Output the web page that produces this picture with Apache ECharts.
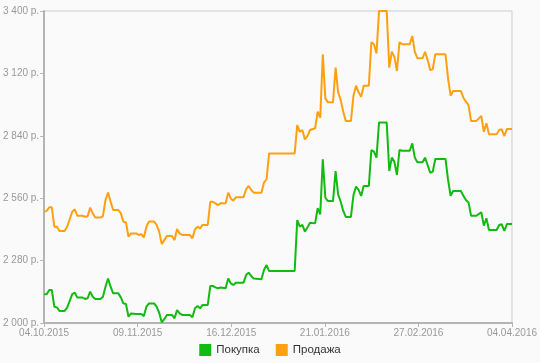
<!DOCTYPE html>
<html>
<head>
<meta charset="utf-8">
<script src="https://cdn.jsdelivr.net/npm/echarts@6/dist/echarts.min.js"></script>
<style>
html,body{margin:0;padding:0;background:#fafafa;}
#c{width:540px;height:363px;}
</style>
</head>
<body>
<div id="c"></div>
<script>
// Data: days since 04.10.2015, with buy / sell rates (руб.)
const startDate = '2015-10-04';
const dayOffsets = [
  0,1,2,3,4,5,6,8,9,11,
  12,13,15,16,17,18,19,20,22,23,
  24,25,26,27,29,30,31,32,33,34,
  36,37,38,39,40,41,43,44,45,46,
  47,48,50,51,52,53,54,57,58,59,
  60,61,62,64,65,66,67,68,69,71,
  72,73,74,75,78,79,80,81,82,85,
  86,87,88,98,99,100,101,102,103,104,
  106,107,108,109,110,111,113,114,115,116,
  117,118,120,121,122,123,124,125,127,128,
  129,130,131,134,135,136,137,138,139,140,
  143,144,145,146,148,149,150,151,152,153,
  157,158,159,160,163,164,165,166,167,169,
  171,172,173,174,177,178,179,180,181,183
];
const sellValues = [
  2499,2503,2519,2519,2432,2432,2413,2413,2432,2499,
  2510,2481,2481,2477,2479,2517,2492,2473,2473,2480,
  2552,2585,2544,2507,2507,2492,2455,2451,2387,2402,
  2402,2395,2399,2384,2432,2455,2455,2440,2410,2354,
  2372,2390,2390,2372,2422,2402,2395,2395,2380,2420,
  2432,2425,2440,2440,2544,2544,2537,2529,2537,2537,
  2585,2559,2549,2564,2564,2600,2615,2597,2585,2585,
  2630,2645,2761,2761,2888,2858,2866,2824,2839,2866,
  2874,2948,2921,3206,3008,2990,2990,3146,3035,3001,
  2948,2906,2906,3020,3065,3035,3015,3065,3065,3260,
  3251,3210,3400,3400,3146,3217,3195,3131,3260,3251,
  3251,3288,3217,3188,3188,3217,3180,3135,3138,3206,
  3206,3098,3020,3041,3041,3011,2993,2978,2906,2906,
  2929,2858,2896,2847,2847,2866,2869,2839,2870,2870
];
const buyValues = [
  2129,2129,2148,2148,2073,2070,2054,2054,2069,2130,
  2136,2114,2114,2108,2111,2141,2118,2108,2108,2118,
  2163,2200,2163,2133,2133,2115,2088,2085,2028,2043,
  2040,2040,2040,2031,2073,2088,2088,2073,2046,2003,
  2017,2036,2036,2021,2058,2043,2036,2036,2026,2066,
  2076,2066,2081,2081,2166,2166,2160,2156,2159,2156,
  2200,2178,2171,2181,2181,2215,2226,2211,2200,2196,
  2238,2260,2233,2233,2462,2432,2440,2410,2429,2450,
  2447,2515,2488,2735,2562,2547,2547,2682,2577,2544,
  2503,2476,2476,2574,2612,2597,2570,2615,2615,2776,
  2769,2742,2900,2900,2682,2742,2724,2664,2776,2773,
  2773,2806,2742,2721,2721,2742,2709,2674,2679,2736,
  2736,2642,2571,2592,2592,2571,2552,2541,2481,2481,
  2497,2437,2470,2417,2417,2440,2443,2413,2444,2444
];
const seriesNames = ['Покупка', 'Продажа'];
const yMin = 2000, yMax = 3400, yStep = 280;
const totalDays = 183;

const start = new Date(startDate + 'T00:00:00Z').getTime();
function fmtDate(v){
  const d = new Date(start + Math.floor(v + 1e-6) * 86400000);
  const dd = String(d.getUTCDate()).padStart(2,'0');
  const mm = String(d.getUTCMonth()+1).padStart(2,'0');
  return dd + '.' + mm + '.' + d.getUTCFullYear();
}
function fmtRub(v){
  return String(Math.round(v)).replace(/\B(?=(\d{3})+(?!\d))/g, ' ') + ' р.';
}

const font = 'Liberation Sans, Arial, sans-serif';
const chart = echarts.init(document.getElementById('c'), null, {renderer:'canvas'});
chart.setOption({
  backgroundColor: '#fafafa',
  animation: false,
  grid: {left: 42, top: 11, right: 27, bottom: 40, show: true, borderColor: '#cdcdcd', borderWidth: 1, backgroundColor: 'transparent'},
  legend: {
    bottom: 2, left: 'center',
    itemWidth: 12, itemHeight: 12, itemGap: 16,
    icon: 'rect',
    textStyle: {color: '#333', fontSize: 11.5, fontFamily: font},
    data: seriesNames
  },
  xAxis: {
    type: 'value', min: 0, max: totalDays, interval: totalDays / 5,
    axisLine: {show: true, lineStyle: {color: '#b4b4b4', width: 2}},
    axisTick: {show: true, length: 4, lineStyle: {color: '#b4b4b4'}},
    splitLine: {show: false},
    axisLabel: {formatter: fmtDate, color: '#999', fontSize: 10, margin: 5, fontFamily: font, showMaxLabel: true, showMinLabel: true}
  },
  yAxis: {
    type: 'value', min: yMin, max: yMax, interval: yStep,
    axisLine: {show: true, lineStyle: {color: '#b4b4b4', width: 2}},
    axisTick: {show: true, length: 4, lineStyle: {color: '#b4b4b4'}},
    splitLine: {show: false},
    axisLabel: {formatter: fmtRub, color: '#999', fontSize: 10, margin: 5, fontFamily: font}
  },
  series: [
    {name: seriesNames[0], type: 'line', showSymbol: false, color: '#11bb11',
     lineStyle: {width: 2, color: '#11bb11'},
     data: dayOffsets.map((d,i) => [d, buyValues[i]])},
    {name: seriesNames[1], type: 'line', showSymbol: false, color: '#ffa010',
     lineStyle: {width: 2, color: '#ffa010'},
     data: dayOffsets.map((d,i) => [d, sellValues[i]])}
  ]
});
</script>
</body>
</html>
